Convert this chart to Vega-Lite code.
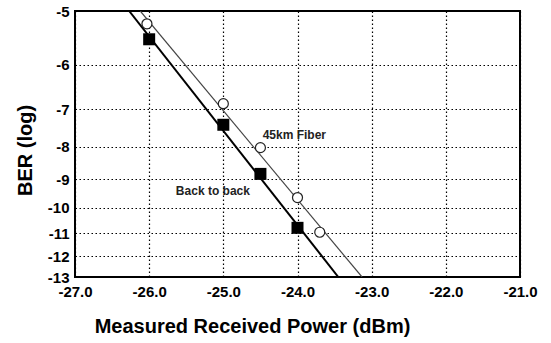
{
  "$schema": "https://vega.github.io/schema/vega-lite/v6.json",
  "width": 445,
  "height": 266,
  "autosize": {"type": "none"},
  "padding": {"left": 75, "top": 11, "right": 31, "bottom": 66},
  "background": "white",
  "config": {
    "font": "Liberation Sans",
    "view": {"stroke": "black", "strokeWidth": 2},
    "axis": {
      "grid": true,
      "gridColor": "black",
      "gridDash": [1.5, 2.5],
      "gridWidth": 1.2,
      "gridOpacity": 1,
      "domain": false,
      "ticks": false,
      "tickCount": 20,
      "labelOverlap": false,
      "labelFlush": false,
      "labelBound": false,
      "labelFont": "Liberation Sans",
      "labelFontWeight": "bold",
      "labelFontSize": 15,
      "labelColor": "black",
      "titleFont": "Liberation Sans",
      "titleFontWeight": "bold",
      "titleFontSize": 20,
      "titleColor": "black"
    }
  },
  "datasets": {
    "fits": [
      {"series": "Back to back", "power": -26.27, "ber": -5},
      {"series": "Back to back", "power": -23.45, "ber": -13},
      {"series": "45km Fiber", "power": -26.12, "ber": -5},
      {"series": "45km Fiber", "power": -23.13, "ber": -13}
    ],
    "points": [
      {"series": "Back to back", "power": -26.0, "ber": -5.5},
      {"series": "Back to back", "power": -25.0, "ber": -7.4},
      {"series": "Back to back", "power": -24.5, "ber": -8.83},
      {"series": "Back to back", "power": -24.0, "ber": -10.78},
      {"series": "45km Fiber", "power": -26.03, "ber": -5.22},
      {"series": "45km Fiber", "power": -25.0, "ber": -6.87},
      {"series": "45km Fiber", "power": -24.5, "ber": -8.03},
      {"series": "45km Fiber", "power": -24.0, "ber": -9.63},
      {"series": "45km Fiber", "power": -23.7, "ber": -10.96}
    ],
    "labels": [
      {"text": "45km Fiber", "power": -24.47, "ber": -7.67},
      {"text": "Back to back", "power": -25.64, "ber": -9.4}
    ]
  },
  "layer": [
    {
      "data": {"name": "fits"},
      "transform": [{"filter": "datum.series == 'Back to back'"}],
      "mark": {"type": "line", "color": "black", "strokeWidth": 2, "clip": true},
      "encoding": {
        "x": {
          "field": "power", "type": "quantitative",
          "scale": {"domain": [-27, -21], "nice": false, "zero": false},
          "axis": {
            "values": [-27, -26, -25, -24, -23, -22, -21],
            "labelExpr": "datum.value + '.0'",
            "labelPadding": 7,
            "title": "Measured Received Power (dBm)",
            "titleX": 177,
            "titleAnchor": "middle",
            "titleAlign": "center",
            "titlePadding": 17
          }
        },
        "y": {
          "field": "ber", "type": "quantitative",
          "scale": {"type": "pow", "exponent": -0.15, "domain": [-13, -5], "nice": false, "zero": false},
          "axis": {
            "values": [-5, -6, -7, -8, -9, -10, -11, -12, -13],
            "labelExpr": "'' + datum.value",
            "labelPadding": 6,
            "title": "BER (log)",
            "titleY": 139,
            "titleAnchor": "middle",
            "titleAlign": "center",
            "titlePadding": 12
          }
        }
      }
    },
    {
      "data": {"name": "fits"},
      "transform": [{"filter": "datum.series == '45km Fiber'"}],
      "mark": {"type": "line", "color": "#444444", "strokeWidth": 1.2, "clip": true},
      "encoding": {
        "x": {"field": "power", "type": "quantitative"},
        "y": {"field": "ber", "type": "quantitative"}
      }
    },
    {
      "data": {"name": "points"},
      "transform": [{"filter": "datum.series == 'Back to back'"}],
      "mark": {"type": "point", "shape": "square", "filled": true, "color": "black", "size": 144, "opacity": 1},
      "encoding": {
        "x": {"field": "power", "type": "quantitative"},
        "y": {"field": "ber", "type": "quantitative"}
      }
    },
    {
      "data": {"name": "points"},
      "transform": [{"filter": "datum.series == '45km Fiber'"}],
      "mark": {"type": "point", "shape": "circle", "filled": false, "fill": "white", "fillOpacity": 1, "stroke": "#222222", "strokeWidth": 1.2, "size": 100, "opacity": 1},
      "encoding": {
        "x": {"field": "power", "type": "quantitative"},
        "y": {"field": "ber", "type": "quantitative"}
      }
    },
    {
      "data": {"name": "labels"},
      "mark": {"type": "text", "align": "left", "baseline": "middle", "font": "Liberation Sans", "fontSize": 12, "fontWeight": "bold", "color": "#222222"},
      "encoding": {
        "x": {"field": "power", "type": "quantitative"},
        "y": {"field": "ber", "type": "quantitative"},
        "text": {"field": "text"}
      }
    }
  ]
}
